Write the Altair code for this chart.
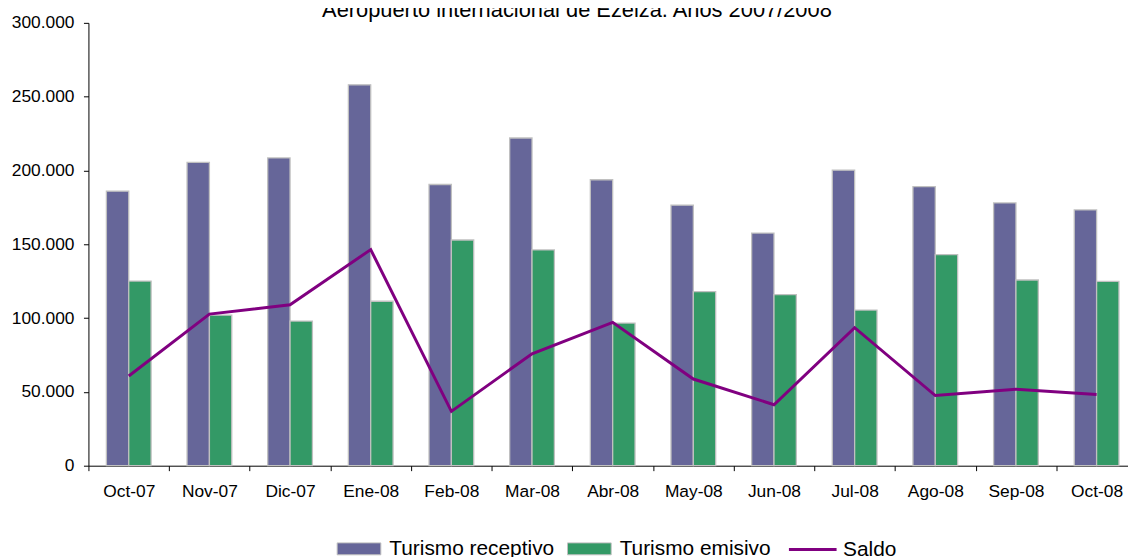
import altair as alt
import pandas as pd

months = ["Oct-07", "Nov-07", "Dic-07", "Ene-08", "Feb-08", "Mar-08", "Abr-08",
          "May-08", "Jun-08", "Jul-08", "Ago-08", "Sep-08", "Oct-08"]
receptivo = [186000, 205500, 208500, 258000, 190500, 222000, 193700,
             176500, 157600, 200200, 189000, 178000, 173300]
emisivo = [125100, 102000, 98000, 111400, 152900, 146200, 96600,
           117900, 115900, 105400, 143000, 125800, 124900]
saldo = [60800, 102700, 109000, 146400, 36800, 75800, 97100,
         58700, 41300, 93500, 47500, 51800, 48200]
series = ["Turismo receptivo", "Turismo emisivo"]
bar_colors = ["#666699", "#339966"]
y_ticks = [0, 50000, 100000, 150000, 200000, 250000, 300000]
title_text = "Aeropuerto internacional de Ezeiza. Años 2007/2008"

bars_df = pd.DataFrame(
    [{"mes": m, "serie": series[0], "valor": v} for m, v in zip(months, receptivo)]
    + [{"mes": m, "serie": series[1], "valor": v} for m, v in zip(months, emisivo)]
)
line_df = pd.DataFrame({"mes": months, "valor": saldo, "serie": ["Saldo"] * len(months)})

FONT = "Liberation Sans"
PLOT_W = 1056

x_enc = alt.X(
    "mes:N",
    sort=months,
    scale=alt.Scale(domain=months, paddingInner=0, paddingOuter=0),
    axis=alt.Axis(title=None, labelAngle=0, tickBand="extent", labelPadding=12,
                  tickSize=5, labelFontSize=17.5, grid=False),
)
y_enc = alt.Y(
    "valor:Q",
    scale=alt.Scale(domain=[0, 300000], nice=False),
    axis=alt.Axis(title=None, values=y_ticks, tickSize=5, labelPadding=9.5,
                  labelFontSize=17.5, grid=False,
                  labelExpr="replace(format(datum.value, ','), ',', '.')"),
)

bar_legend = alt.Legend(
    title=None, orient="none", direction="horizontal", columns=2,
    legendX=250, legendY=507,
    symbolType="M-1,-0.273H1V0.273H-1Z", symbolSize=1936,
    symbolStrokeColor="#c0c0c0", symbolStrokeWidth=1,
    labelFontSize=21, labelFont=FONT, labelColor="#000000",
    labelOffset=8, columnPadding=10, labelLimit=400,
)
line_legend = alt.Legend(
    title=None, orient="none", direction="horizontal",
    legendX=704, legendY=505,
    symbolType="stroke", symbolSize=2304, symbolStrokeWidth=3,
    labelFontSize=21, labelFont=FONT, labelColor="#000000",
    labelOffset=5, labelLimit=400,
)

bars = alt.Chart(bars_df).mark_bar(stroke="#c0c0c0", strokeWidth=1.3).encode(
    x=x_enc,
    y=y_enc,
    xOffset=alt.XOffset("serie:N", scale=alt.Scale(domain=series, paddingInner=0, paddingOuter=0.804)),
    color=alt.Color("serie:N", scale=alt.Scale(domain=series, range=bar_colors), legend=bar_legend),
)

line = alt.Chart(line_df).mark_line(strokeWidth=3).encode(
    x=x_enc,
    y=y_enc,
    stroke=alt.Stroke("serie:N", scale=alt.Scale(domain=["Saldo"], range=["#800080"]), legend=line_legend),
)

chart = alt.layer(bars, line).resolve_scale(color="independent").properties(
    width=PLOT_W,
    height=446,
    background="white",
    autosize=alt.AutoSizeParams(type="none"),
    padding={"left": 81, "top": 13, "right": -9, "bottom": 90},
    title=alt.TitleParams(title_text, font=FONT, fontSize=22, fontWeight="normal",
                          color="#000000", anchor="middle", frame="group",
                          baseline="alphabetic", offset=0, dy=25, dx=-36),
).configure_view(stroke=None).configure_axis(
    grid=False, domainColor="#000000", tickColor="#000000", labelColor="#000000",
    labelFont=FONT, domainWidth=1, tickWidth=1,
)

chart.save("out.html", embed_options={"renderer": "svg", "actions": False})
